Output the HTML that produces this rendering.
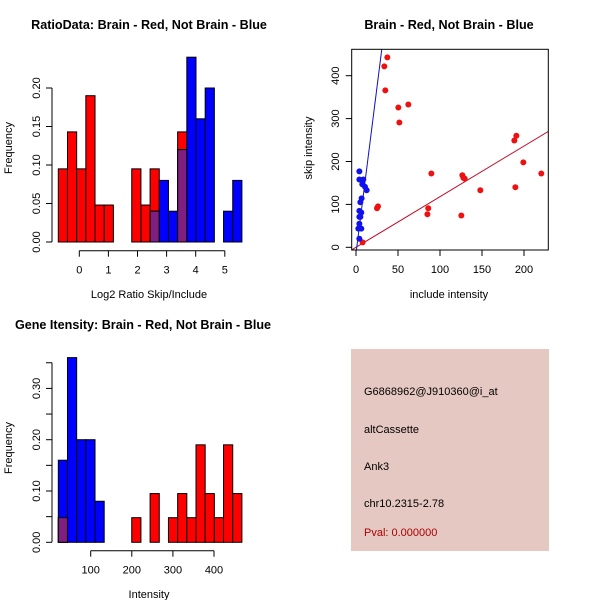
<!DOCTYPE html>
<html><head><meta charset="utf-8"><style>
body{margin:0;background:#fff}
svg{display:block;font-family:"Liberation Sans",Arial,sans-serif}
</style></head><body>
<svg id="c" width="600" height="600" viewBox="0 0 600 600"></svg>
<script>
// Panel 1: log2 ratio histogram (bin frequencies)
const ratioRed = [0.095,0.143,0.095,0.19,0.048,0.048,0,0,0.095,0.048,0.095,0,0,0.143,0,0,0,0,0,0];
const ratioBlue = [0,0,0,0,0,0,0,0,0,0,0.04,0.08,0.04,0.12,0.24,0.16,0.2,0,0.04,0.08];
const ratioXTicks = [0,1,2,3,4,5];
const ratioYTicks = [0,0.05,0.10,0.15,0.20];
// Panel 2: scatter
const redX = [37.3,33.7,34.9,50.4,62.3,51.6,26.2,25,7.9,89.7,86,85,125.4,126.6,127.8,129.4,148,188.5,190.9,189.7,199.2,220.6];
const redY = [442.7,421.7,365.8,326,333,291,95.5,91,11.6,172,91,77,74,168,162,160,133,249,260,140,198,172];
const blueX = [4,4,8.7,7.5,10.7,12.7,6.7,5.2,4,6.3,4,5.2,4,2.8,6.3,4];
const blueY = [177,158,158,147,141,133,114,105,85,81,71,71,55,43.5,43.5,20];
const redFit = [0, 1.18];   // intercept, slope
const blueFit = [-14, 15.5];
const scatXTicks = [0,50,100,150,200];
const scatYTicks = [0,100,200,300,400];
// Panel 3: intensity histogram
const intRed = [0.048,0,0,0,0,0,0,0,0.048,0,0.095,0,0.048,0.095,0.048,0.19,0.095,0.048,0.19,0.095];
const intBlue = [0.16,0.36,0.2,0.2,0.08,0,0,0,0,0,0,0,0,0,0,0,0,0,0,0];
const intXTicks = [100,200,300,400];
const intYTicks = [0,0.05,0.10,0.15,0.20,0.25,0.30,0.35];
const intYLabels = [0,0.10,0.20,0.30];

const svg = document.getElementById('c');
const NS = 'http://www.w3.org/2000/svg';
function mk(tag, attrs, parent){const e=document.createElementNS(NS,tag);for(const k in attrs)e.setAttribute(k,attrs[k]);(parent||svg).appendChild(e);return e;}
function txt(s,x,y,attrs){const t=mk('text',Object.assign({x:x,y:y,'font-size':11,'text-anchor':'middle',fill:'#000'},attrs||{}));t.textContent=s;return t;}

function hist(g, red, blue, x0px, bw, sy, y0){
  for(let i=0;i<red.length;i++){
    const x=x0px+i*bw, r=red[i], b=blue[i];
    if(r>0){const e=mk('rect',{x:x,y:sy(r),width:bw,height:y0-sy(r),fill:'#ff0000',stroke:'#000','stroke-width':1},g);
      
      }
    if(b>0){const e=mk('rect',{x:x,y:sy(b),width:bw,height:y0-sy(b),fill:'#0000ff',stroke:'#000','stroke-width':1},g);
      
      }
    const m=Math.min(r,b);
    if(m>0){const e=mk('rect',{x:x,y:sy(m),width:bw,height:y0-sy(m),fill:'#7f1f80',stroke:'#000','stroke-width':1},g);
      
      }
  }
}
function yaxis(g, ticks, labels, sy, ax, fmt){
  mk('line',{x1:ax,x2:ax,y1:sy(ticks[0]),y2:sy(ticks[ticks.length-1]),stroke:'#000'},g);
  ticks.forEach(v=>mk('line',{x1:ax-6,x2:ax,y1:sy(v),y2:sy(v),stroke:'#000'},g));
  labels.forEach(v=>{const yy=sy(v);const t=txt(fmt(v),ax-12,yy,{transform:`rotate(-90 ${ax-12} ${yy})`},g);g.appendChild(t);});
}
function xaxis(g, ticks, sx, ay){
  mk('line',{x1:sx(ticks[0]),x2:sx(ticks[ticks.length-1]),y1:ay,y2:ay,stroke:'#000'},g);
  ticks.forEach(v=>{mk('line',{x1:sx(v),x2:sx(v),y1:ay,y2:ay+6,stroke:'#000'},g);const t=txt(String(v),sx(v),ay+23);g.appendChild(t);});
}

// ---- Panel 1
{
  const g=mk('g',{});  
  const sy=v=>242-v*770, sx=v=>79.3+v*29.1;
  hist(g, ratioRed, ratioBlue, 58.3, 9.18, sy, 242);
  yaxis(g, ratioYTicks, ratioYTicks, sy, 52, v=>v.toFixed(2));
  xaxis(g, ratioXTicks, sx, 250.7);
  g.appendChild(txt('RatioData: Brain - Red, Not Brain - Blue',149,29,{'font-weight':'bold','font-size':12.6}));
  g.appendChild(txt('Log2 Ratio Skip/Include',149,298));
  g.appendChild(txt('Frequency',12,148,{transform:'rotate(-90 12 148)'}));
}
// ---- Panel 2
{
  const g=mk('g',{});  
  const sx=v=>356+v*0.84, sy=v=>247.3-v*0.429;
  mk('defs',{},g); const cp=mk('clipPath',{id:'clp'},g.firstChild); mk('rect',{x:351.7,y:49.3,width:196.6,height:200.7},cp);
  const lg=mk('g',{'clip-path':'url(#clp)'},g);
  const lx1=-10, lx2=240;
  const rl=mk('line',{x1:sx(lx1),y1:sy(redFit[0]+redFit[1]*lx1),x2:sx(lx2),y2:sy(redFit[0]+redFit[1]*lx2),stroke:'#c0102a','stroke-width':1},lg);
   
  const bl=mk('line',{x1:sx(lx1),y1:sy(blueFit[0]+blueFit[1]*lx1),x2:sx(lx2),y2:sy(blueFit[0]+blueFit[1]*lx2),stroke:'#1010c0','stroke-width':1},lg);
   
  redX.forEach((x,i)=>{const c=mk('circle',{cx:sx(x),cy:sy(redY[i]),r:3,fill:'#ee1111'},g);
     });
  blueX.forEach((x,i)=>{const c=mk('circle',{cx:sx(x),cy:sy(blueY[i]),r:3,fill:'#1111ee'},g);
     });
  const box=mk('rect',{x:351.7,y:49.3,width:196.6,height:200.7,fill:'none',stroke:'#000'},g);
   
  scatXTicks.forEach(v=>{mk('line',{x1:sx(v),x2:sx(v),y1:250,y2:256,stroke:'#000'},g);g.appendChild(txt(String(v),sx(v),273));});
  scatYTicks.forEach(v=>{mk('line',{x1:345.7,x2:351.7,y1:sy(v),y2:sy(v),stroke:'#000'},g);const yy=sy(v);g.appendChild(txt(String(v),339,yy,{transform:`rotate(-90 339 ${yy})`}));});
  g.appendChild(txt('Brain - Red, Not Brain - Blue',449,29,{'font-weight':'bold','font-size':12.6}));
  g.appendChild(txt('include intensity',449,298));
  g.appendChild(txt('skip intensity',312,148,{transform:'rotate(-90 312 148)'}));
}
// ---- Panel 3
{
  const g=mk('g',{});  
  const sy=v=>542.3-v*513, sx=v=>90.7+(v-100)*0.411;
  hist(g, intRed, intBlue, 58.3, 9.18, sy, 542.3);
  yaxis(g, intYTicks, intYLabels, sy, 52, v=>v.toFixed(2));
  xaxis(g, intXTicks, sx, 550.7);
  g.appendChild(txt('Gene Itensity: Brain - Red, Not Brain - Blue',143,329,{'font-weight':'bold','font-size':12.6}));
  g.appendChild(txt('Intensity',149,598));
  g.appendChild(txt('Frequency',12,448,{transform:'rotate(-90 12 448)'}));
}
// ---- Panel 4
{
  const g=mk('g',{});  
  mk('rect',{x:351,y:349,width:198,height:202,fill:'#e6c8c2'},g);
  const lines=[['G6868962@J910360@i_at',395,'#000','probe-id'],['altCassette',433,'#000','event-type'],['Ank3',470,'#000','gene-name'],['chr10.2315-2.78',507,'#000','location'],['Pval: 0.000000',536,'#aa0000','p-value']];
  lines.forEach(l=>{const t=txt(l[0],364,l[1],{'text-anchor':'start',fill:l[2]});g.appendChild(t);
     });
}
</script>
</body></html>
